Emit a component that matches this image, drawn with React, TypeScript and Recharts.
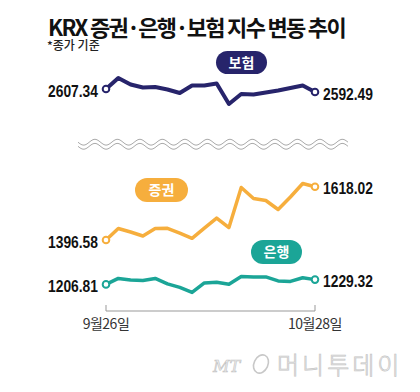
import React from "react";
import { LineChart, Line, XAxis, YAxis, LabelList } from "recharts";

// 9/26 ~ 10/28 index levels
const endDates = ["9월26일", "10월28일"];
const insurance = [2607.34, 2661.8, 2629.6, 2614.8, 2617.2, 2604.9, 2587.5, 2624.7, 2624.7, 2634.6, 2533.1, 2582.6, 2580.1, 2590.0, 2599.9, 2612.3, 2624.7, 2592.49];
const securities = [1396.58, 1444.4, 1429.8, 1413.2, 1444.4, 1445.2, 1425.7, 1403.6, 1446.4, 1488.0, 1448.5, 1614.7, 1569.0, 1560.7, 1523.3, 1575.2, 1631.3, 1618.02];
const banks = [1206.81, 1234.9, 1227.9, 1225.6, 1234.9, 1209.2, 1192.7, 1169.3, 1213.8, 1217.1, 1207.7, 1244.3, 1241.0, 1242.0, 1223.2, 1220.9, 1238.2, 1229.32];

const last = insurance.length - 1;
const data = insurance.map((v, i) => ({
    idx: i,
    insurance: v,
    securities: securities[i],
    banks: banks[i],
}));

const NAVY = "#27246b";
const ORANGE = "#f6ae3d";
const TEAL = "#1ba597";
const numFont = "'Liberation Sans', Arial, sans-serif";
const krFont = "'Noto Sans CJK KR', 'Noto Sans', sans-serif";

const endDot = (color: string) => (p: any) => {
    if (p.index !== 0 && p.index !== last) return <g key={p.key} />;
    return <circle key={p.key} cx={p.cx} cy={p.cy} r={3.3} fill="#fff" stroke={color} strokeWidth={2} />;
};

const endLabel = (p: any) => {
    const { x, y, value, index } = p;
    if (index !== 0 && index !== last) return null;
    const left = index === 0;
    return (
        <text
            x={left ? x - 8 : x + 8}
            y={y + 7.5}
            textAnchor={left ? "end" : "start"}
            fontFamily={numFont}
            fontWeight={700}
            fontSize={17}
            textLength={50}
            lengthAdjust="spacingAndGlyphs"
            fill="#111"
        >
            {Number(value).toFixed(2)}
        </text>
    );
};

function wavePath(base: number) {
    let d = "";
    for (let x = 78; x <= 348; x += 1) {
        const y = base + 2.9 * Math.sin(((x - 78) / 22.5) * Math.PI * 2);
        d += (x === 78 ? "M" : "L") + x + " " + y.toFixed(2) + " ";
    }
    return d;
}

function Pill({ x, y, w, h, color, label }: any) {
    return (
        <g>
            <rect x={x} y={y} width={w} height={h} rx={h / 2} fill={color} />
            <text x={x + w / 2} y={y + h / 2 + 5} textAnchor="middle" fontFamily={krFont} fontWeight={700} fontSize={14} fill="#fff">
                {label}
            </text>
        </g>
    );
}

export default function App() {
    return (
        <div style={{ position: "absolute", left: 0, top: 0, width: 420, height: 392, background: "#fff", overflow: "hidden" }}>
            <LineChart width={420} height={392} data={data} margin={{ top: 60, right: 105, bottom: 41, left: 106 }}>
                <XAxis
                    dataKey="idx"
                    type="number"
                    domain={[0, last]}
                    ticks={[0, last]}
                    tickFormatter={(v) => (v === 0 ? endDates[0] : endDates[1])}
                    axisLine={{ stroke: "#999" }}
                    tickLine={{ stroke: "#999" }}
                    tickSize={-6}
                    tickMargin={14}
                    height={40}
                    tick={{ fontSize: 14, fill: "#333", fontFamily: krFont, letterSpacing: -0.5 }}
                />
                <YAxis yAxisId="ins" hide domain={[1508, 2751]} allowDataOverflow />
                <YAxis yAxisId="sec" hide domain={[1102, 2144]} allowDataOverflow />
                <YAxis yAxisId="bank" hide domain={[1082, 2260]} allowDataOverflow />
                <Line yAxisId="ins" type="linear" dataKey="insurance" stroke={NAVY} strokeWidth={4} strokeLinejoin="round" dot={endDot(NAVY)} activeDot={false} isAnimationActive={false}>
                    <LabelList dataKey="insurance" content={endLabel} />
                </Line>
                <Line yAxisId="sec" type="linear" dataKey="securities" stroke={ORANGE} strokeWidth={3.5} strokeLinejoin="round" dot={endDot(ORANGE)} activeDot={false} isAnimationActive={false}>
                    <LabelList dataKey="securities" content={endLabel} />
                </Line>
                <Line yAxisId="bank" type="linear" dataKey="banks" stroke={TEAL} strokeWidth={3.5} strokeLinejoin="round" dot={endDot(TEAL)} activeDot={false} isAnimationActive={false}>
                    <LabelList dataKey="banks" content={endLabel} />
                </Line>
            </LineChart>
            <svg width={420} height={392} style={{ position: "absolute", left: 0, top: 0, pointerEvents: "none" }}>
                <text x={48} y={35.5} fontFamily={krFont} fontWeight={700} fontSize={22} letterSpacing={-1.7} fill="#111">
                    KRX 증권·은행·보험 지수 변동 추이
                </text>
                <text x={47} y={50} fontFamily={krFont} fontWeight={500} fontSize={12} fill="#222">
                    *종가 기준
                </text>
                <Pill x={216} y={51} w={51} h={23} color={NAVY} label="보험" />
                <Pill x={135} y={178} w={53} h={24} color={ORANGE} label="증권" />
                <Pill x={251} y={240} w={51} h={24} color={TEAL} label="은행" />
                <path d={wavePath(142.2)} fill="none" stroke="#aaa" strokeWidth={1} />
                <path d={wavePath(146.3)} fill="none" stroke="#aaa" strokeWidth={1} />
                <text x={213} y={372} fontFamily="'DejaVu Serif', serif" fontStyle="italic" fontSize={16} fill="#eee" stroke="#c4c4c4" strokeWidth={0.6}>
                    MT
                </text>
                <ellipse cx={261} cy={364} rx={7} ry={9.5} transform="rotate(25 261 364)" fill="none" stroke="#c8c8c8" strokeWidth={1.6} />
                <text x={277} y={374} fontFamily={krFont} fontWeight={300} fontSize={24} letterSpacing={3} fill="#f2f2f2" stroke="#c4c4c4" strokeWidth={0.7}>
                    머니투데이
                </text>
            </svg>
        </div>
    );
}
